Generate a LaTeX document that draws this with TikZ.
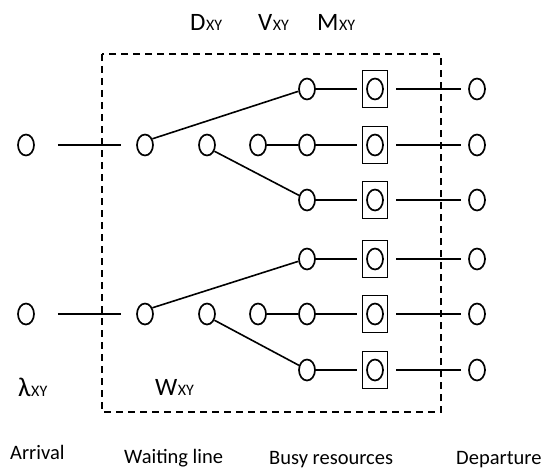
\documentclass[tikz,border=0pt]{standalone}
\usepackage{fontspec}
\setmainfont{Carlito}
\usetikzlibrary{shapes.geometric}
\tikzset{
  oval/.style={ellipse, draw, line width=1.7pt, minimum width=16pt, minimum height=21pt, inner sep=0pt},
  rbox/.style={rectangle, draw, line width=1.8pt, minimum width=25pt, minimum height=37pt, inner sep=0pt},
  conn/.style={line width=1.6pt},
  frame/.style={dashed, line width=1.5pt, dash pattern=on 7pt off 5pt},
  big/.style={anchor=base west, inner sep=0pt, font=\fontsize{25}{28}\selectfont},
  lab/.style={anchor=base west, inner sep=0pt, font=\fontsize{20.5}{24}\selectfont},
}
\newcommand{\sxy}{{\fontsize{16}{18}\selectfont\kern0.5pt XY}}
\begin{document}
\begin{tikzpicture}[x=1pt,y=-1pt]
\useasboundingbox (0,0) rectangle (545,468);
% dashed frame
\draw[frame] (102,54) rectangle (441,412);
% top labels
\node[big] (dl) at (190,31) {D\sxy};
\node[big] (vl) at (258,31) {V\sxy};
\node[big] (ml) at (317,31) {M\sxy};
% two groups
\foreach \g/\ya/\yb/\yc in {t/89/145/200, b/259/314/370}{
  \node[oval] (a\g) at (26,\yb) {};
  \node[oval] (w\g) at (145,\yb) {};
  \node[oval] (v\g) at (207,\yb) {};
  \node[oval] (c\g) at (258,\yb) {};
  \node[oval] (d\g1) at (307,\ya) {};
  \node[oval] (d\g2) at (307,\yb) {};
  \node[oval] (d\g3) at (307,\yc) {};
  \foreach \i/\yy in {1/\ya,2/\yb,3/\yc}{
    \node[rbox] (m\g\i) at (375,\yy) {};
    \node[oval] (o\g\i) at (375,\yy) {};
    \node[oval] (e\g\i) at (477,\yy) {};
    \draw[conn] (d\g\i) -- ([xshift=-5pt]m\g\i.west);
    \draw[conn] ([xshift=8pt]m\g\i.east) -- ([xshift=-7pt]e\g\i.west);
  }
  \draw[conn, shorten <=23pt, shorten >=15pt] (a\g) -- (w\g);
  \draw[conn] (w\g.40) -- (d\g1.195);
  \draw[conn] (v\g.-40) -- (d\g3.150);
  \draw[conn] (c\g) -- (d\g2);
}
% bottom labels
\node[anchor=base west, inner sep=0pt] (lam) at (18,396) {\fontsize{27}{30}\selectfont λ\sxy};
\node[big] (wl) at (155,395) {W\sxy};
\node[lab] (arr) at (10,459) {Arrival};
\node[lab] (wait) at (124,463) {Waiting line};
\node[lab] (busy) at (269,464) {Busy resources};
\node[lab] (dep) at (456,464) {Departure};
\end{tikzpicture}
\end{document}
